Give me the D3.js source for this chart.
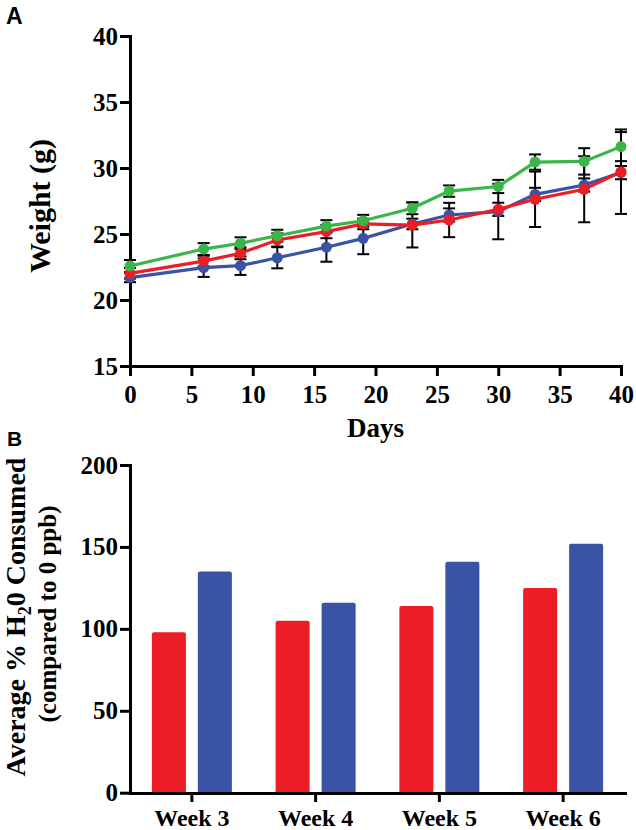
<!DOCTYPE html>
<html><head><meta charset="utf-8">
<script src="https://cdn.jsdelivr.net/npm/d3@7/dist/d3.min.js"></script>
<style>body{margin:0;background:#fff}svg{display:block}</style>
</head><body>
<svg id="c" width="636" height="830"></svg>
<script>
// ---- Panel A data ----
const days = [0, 6, 9, 12, 16, 19, 23, 26, 30, 33, 37, 40];
const blueWeight  = [21.7, 22.45, 22.6, 23.2, 24.0, 24.67, 25.76, 26.44, 26.7, 28.0, 28.71, 29.65];
const blueErr     = [0.35, 0.7, 0.7, 0.8, 1.1, 1.2, 0.4, 0.5, 2.1, 0.5, 0.5, 0.5];
const redWeight   = [22.02, 22.95, 23.54, 24.55, 25.18, 25.76, 25.68, 26.06, 26.87, 27.63, 28.39, 29.72];
const redErr      = [0.4, 0.4, 0.45, 0.5, 0.5, 0.4, 1.7, 1.3, 0.5, 2.1, 2.5, 3.2];
const greenWeight = [22.58, 23.86, 24.3, 24.87, 25.6, 26.0, 26.95, 28.25, 28.6, 30.45, 30.5, 31.62];
const greenErr    = [0.45, 0.45, 0.45, 0.45, 0.45, 0.45, 0.45, 0.43, 0.5, 0.58, 1.0, 1.1];
const weightTicks = [15, 20, 25, 30, 35, 40];
const dayTicks = [0, 5, 10, 15, 20, 25, 30, 35, 40];

// ---- Panel B data ----
const weeks = ["Week 3", "Week 4", "Week 5", "Week 6"];
const redWater  = [98, 105, 114, 125];
const blueWater = [135, 116, 141, 152];
const waterTicks = [0, 50, 100, 150, 200];

const RED = "#ec1d25", BLUE = "#3a53a4", GREEN = "#3bb54a";
const SERIF = "'Liberation Serif','Times New Roman',serif";
const SANS = "'Liberation Sans',Arial,sans-serif";

const svg = d3.select("#c");

function styleAxis(g) {
  g.selectAll("path.domain").attr("stroke", "#000").attr("stroke-width", 3).attr("stroke-linecap", "square");
  g.selectAll(".tick line").attr("stroke", "#000").attr("stroke-width", 3);
  g.selectAll(".tick text").attr("font-family", SERIF).attr("font-weight", "bold")
    .attr("font-size", 25).attr("fill", "#000");
}

// ================= Panel A =================
const xA = d3.scaleLinear().domain([0, 40]).range([130, 621]);
const yA = d3.scaleLinear().domain([15, 40]).range([366, 36]);

const gA = svg.append("g");
gA.append("g").attr("transform", "translate(0,366)")
  .call(d3.axisBottom(xA).tickValues(dayTicks).tickSize(10).tickSizeOuter(0).tickPadding(9).tickFormat(d3.format("d")))
  .call(styleAxis);
gA.append("g").attr("transform", "translate(130,0)")
  .call(d3.axisLeft(yA).tickValues(weightTicks).tickSize(10).tickSizeOuter(0).tickPadding(2).tickFormat(d3.format("d")))
  .call(styleAxis);

const seriesA = [
  {vals: blueWeight, err: blueErr, color: BLUE},
  {vals: redWeight, err: redErr, color: RED},
  {vals: greenWeight, err: greenErr, color: GREEN}
];
const line = d3.line().x((d, i) => xA(days[i])).y(d => yA(d));
seriesA.forEach(s => {
  const eb = gA.append("g").attr("stroke", "#000").attr("stroke-width", 2);
  s.vals.forEach((v, i) => {
    const x = xA(days[i]), y0 = yA(v - s.err[i]), y1 = yA(v + s.err[i]);
    eb.append("line").attr("x1", x).attr("x2", x).attr("y1", y0).attr("y2", y1);
    eb.append("line").attr("x1", x - 6).attr("x2", x + 6).attr("y1", y0).attr("y2", y0);
    eb.append("line").attr("x1", x - 6).attr("x2", x + 6).attr("y1", y1).attr("y2", y1);
  });
});
seriesA.forEach(s => {
  gA.append("path").datum(s.vals).attr("d", line).attr("fill", "none")
    .attr("stroke", s.color).attr("stroke-width", 3.2);
  gA.append("g").selectAll("circle").data(s.vals).join("circle")
    .attr("cx", (d, i) => xA(days[i])).attr("cy", d => yA(d)).attr("r", 5.5)
    .attr("fill", s.color);
});

gA.append("text").attr("x", 375.5).attr("y", 437).attr("text-anchor", "middle")
  .attr("font-family", SERIF).attr("font-weight", "bold").attr("font-size", 27).text("Days");
gA.append("text").attr("transform", "translate(50,206) rotate(-90)").attr("text-anchor", "middle")
  .attr("font-family", SERIF).attr("font-weight", "bold").attr("font-size", 30).text("Weight (g)");
svg.append("text").attr("x", 6).attr("y", 24).attr("font-family", SANS).attr("font-weight", "bold")
  .attr("font-size", 23).text("A");

// ================= Panel B =================
const xB = d3.scaleBand().domain(weeks).range([130, 625]).padding(0);
const xSub = d3.scaleBand().domain(["red", "blue"]).range([-40, 40]).paddingInner(0.26).paddingOuter(0);
const yB = d3.scaleLinear().domain([0, 200]).range([792.7, 465]);

const gB = svg.append("g");
const barData = [];
weeks.forEach((w, i) => {
  barData.push({week: w, key: "red", v: redWater[i], color: RED});
  barData.push({week: w, key: "blue", v: blueWater[i], color: BLUE});
});
gB.append("g").selectAll("rect").data(barData).join("rect")
  .attr("x", d => xB(d.week) + xB.bandwidth() / 2 + xSub(d.key))
  .attr("width", xSub.bandwidth())
  .attr("y", d => yB(d.v))
  .attr("height", d => yB(0) - yB(d.v) + 2)
  .attr("rx", 2).attr("fill", d => d.color);

gB.append("g").attr("transform", "translate(0,793)")
  .call(d3.axisBottom(xB).tickSize(9).tickSizeOuter(0).tickPadding(7))
  .call(styleAxis);
gB.selectAll(".tick text").attr("font-size", 24);
gB.append("g").attr("transform", "translate(130,0)")
  .call(d3.axisLeft(yB).tickValues(waterTicks).tickSize(10).tickSizeOuter(0).tickPadding(2).tickFormat(d3.format("d")))
  .call(styleAxis);

const yl = gB.append("text").attr("transform", "translate(25,617) rotate(-90)").attr("text-anchor", "middle")
  .attr("font-family", SERIF).attr("font-weight", "bold").attr("font-size", 28);
yl.append("tspan").text("Average % H");
yl.append("tspan").attr("font-size", 18).attr("dy", 6).text("2");
yl.append("tspan").attr("dy", -6).text("0 Consumed");
gB.append("text").attr("transform", "translate(56,614) rotate(-90)").attr("text-anchor", "middle")
  .attr("font-family", SERIF).attr("font-weight", "bold").attr("font-size", 25).text("(compared to 0 ppb)");
svg.append("text").attr("x", 7).attr("y", 446).attr("font-family", SANS).attr("font-weight", "bold")
  .attr("font-size", 21).text("B");
</script>
</body></html>
